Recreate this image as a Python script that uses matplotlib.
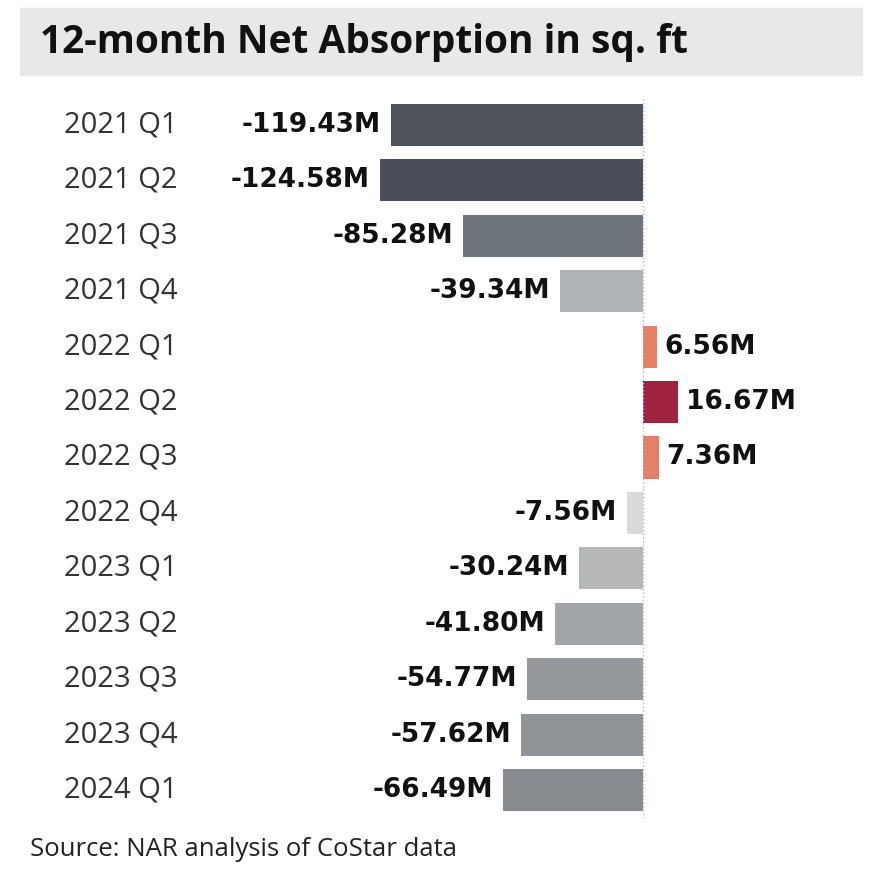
import matplotlib.pyplot as plt
from matplotlib.patches import Rectangle
from matplotlib.transforms import blended_transform_factory, offset_copy

quarters = ['2021 Q1', '2021 Q2', '2021 Q3', '2021 Q4',
            '2022 Q1', '2022 Q2', '2022 Q3', '2022 Q4',
            '2023 Q1', '2023 Q2', '2023 Q3', '2023 Q4', '2024 Q1']
absorption = [-119.43, -124.58, -85.28, -39.34,
              6.56, 16.67, 7.36, -7.56,
              -30.24, -41.80, -54.77, -57.62, -66.49]
bar_colors = ['#4e535c', '#4a4e58', '#6f767b', '#b0b3b5',
              '#e57f66', '#a0223e', '#e57f66', '#d9d9d9',
              '#b5b7b9', '#a3a6a8', '#95999c', '#909498', '#878b90']

plt.rcParams['font.family'] = ['Open Sans', 'DejaVu Sans']

W, H = 884, 892
fig = plt.figure(figsize=(W / 100, H / 100), dpi=100)

# grey title band
fig.patches.append(Rectangle((20 / W, 1 - 75 / H), 842 / W, 67 / H,
                             transform=fig.transFigure, color='#e8e8e8', zorder=0))
fig.text(40 / W, 1 - 43 / H, '12-month Net Absorption in sq. ft',
         fontsize=28, fontweight='bold', color='#111111', va='center')

# axes: zero at x=643, 2.111 px per million
scale = 2.111
ax_left, ax_right = 210, 860
top, bottom = 97.3, 817.7
ax = fig.add_axes([ax_left / W, 1 - bottom / H, (ax_right - ax_left) / W, (bottom - top) / H])
ax.set_xlim(-(643 - ax_left) / scale, (ax_right - 643) / scale)
ax.set_ylim(len(quarters) - 0.5, -0.5)
ax.axis('off')

ypos = list(range(len(quarters)))
ax.barh(ypos, absorption, height=0.76, color=bar_colors, zorder=2)
ax.axvline(0, color='#b5b5b5', linestyle=':', linewidth=1, zorder=3)

for y, v in zip(ypos, absorption):
    dx = -10 if v < 0 else 8
    tr = offset_copy(ax.transData, fig=fig, x=dx, y=0, units='dots')
    ax.text(v, y, f'{v:.2f}M', transform=tr, ha='right' if v < 0 else 'left',
            va='center', fontsize=19, fontweight='bold', color='#111111',
            family='DejaVu Sans')

# category labels, centred in the left margin
lab_tr = blended_transform_factory(fig.transFigure, ax.transData)
for y, q in zip(ypos, quarters):
    ax.text(121 / W, y, q, transform=lab_tr, ha='center', va='center',
            fontsize=21, color='#333333')

fig.text(30 / W, 1 - 850 / H, 'Source: NAR analysis of CoStar data',
         fontsize=18.5, color='#222222', va='center')

fig.savefig('out.png', dpi=100)
